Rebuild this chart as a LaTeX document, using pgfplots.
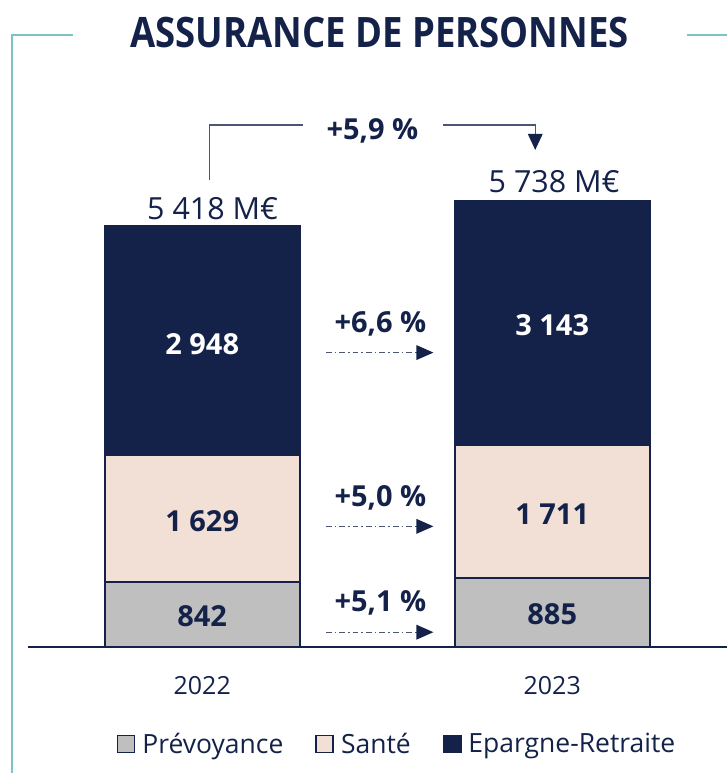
\documentclass[border=0pt]{standalone}
\usepackage{pgfplots}
\pgfplotsset{compat=1.18}
\usepackage{fontspec}
\setmainfont{Open Sans}
\definecolor{navy}{RGB}{20,34,74}
\definecolor{navyline}{RGB}{75,86,117}
\definecolor{sante}{RGB}{242,224,214}
\definecolor{prev}{RGB}{191,191,191}
\definecolor{tealf}{RGB}{122,196,200}
\newcommand{\py}[1]{(648-#1)/0.077888}
\newcommand{\fA}{\fontsize{29}{34}\selectfont\bfseries}
\newcommand{\fB}{\fontsize{30.5}{35}\selectfont}
\begin{document}
\begin{tikzpicture}
\begin{axis}[
  scale only axis, width=728pt, height=774pt,
  xmin=0, xmax=728, ymin=-1617.7, ymax=8319.7,
  ybar stacked, bar width=195,
  axis line style={draw=none},
  ytick=\empty, xtick={202.5,553}, xticklabels={2022,2023},
  major tick length=0pt,
  xticklabel style={yshift=100pt, font=\fontsize{25}{30}\selectfont, text=navy},
  clip=false,
  legend columns=3,
  legend style={at={(0.546,0.0375)}, anchor=center, draw=none, fill=none,
    font=\fontsize{26.5}{31}\selectfont, text=navy,
    /tikz/every odd column/.append style={column sep=5pt},
    /tikz/every even column/.append style={column sep=30pt}},
  legend image code/.code={\draw[#1, line width=1.8pt] (0pt,-8.5pt) rectangle (17pt,8.5pt);},
]
\addplot[fill=prev, draw=navy, line width=2pt] coordinates {(202.5,842) (553,885)};
\addlegendentry{Prévoyance}
\addplot[fill=sante, draw=navy, line width=2pt] coordinates {(202.5,1629) (553,1711)};
\addlegendentry{Santé}
\addplot[fill=navy, draw=navy, line width=2pt] coordinates {(202.5,2948) (553,3143)};
\addlegendentry{Epargne-Retraite}

\coordinate (b0) at (axis cs:28,0);
\coordinate (b1) at (axis cs:728,0);
\coordinate (f0) at (axis cs:73,{\py{35}});
\coordinate (f1) at (axis cs:12,{\py{35}});
\coordinate (f2) at (axis cs:12,{\py{774}});
\coordinate (f3) at (axis cs:688,{\py{35}});
\coordinate (f4) at (axis cs:728,{\py{35}});
\coordinate (title) at (axis cs:380,{\py{32}});
\coordinate (tot1) at (axis cs:213,{\py{209}});
\coordinate (tot2) at (axis cs:555,{\py{182}});
\coordinate (c0) at (axis cs:210,{\py{180}});
\coordinate (c1) at (axis cs:210,{\py{125}});
\coordinate (c2) at (axis cs:303,{\py{125}});
\coordinate (c3) at (axis cs:444,{\py{125}});
\coordinate (c4) at (axis cs:536,{\py{125}});
\coordinate (c5) at (axis cs:536,{\py{136}});
\coordinate (h1) at (axis cs:528.5,{\py{134}});
\coordinate (h2) at (axis cs:543.5,{\py{134}});
\coordinate (h3) at (axis cs:536,{\py{150}});
\coordinate (g) at (axis cs:373,{\py{131}});
\coordinate (v1) at (axis cs:202.5,{\py{345}});
\coordinate (v2) at (axis cs:202.5,{\py{522}});
\coordinate (v3) at (axis cs:202.5,{\py{617}});
\coordinate (w1) at (axis cs:553,{\py{326}});
\coordinate (w2) at (axis cs:553,{\py{515}});
\coordinate (w3) at (axis cs:553,{\py{615}});
\coordinate (l1) at (axis cs:381,{\py{324}});
\coordinate (l2) at (axis cs:381,{\py{498}});
\coordinate (l3) at (axis cs:381,{\py{604}});
\coordinate (a1s) at (axis cs:326,{\py{353}});
\coordinate (a1e) at (axis cs:419,{\py{353}});
\coordinate (a1u) at (axis cs:417,{\py{345.5}});
\coordinate (a1t) at (axis cs:434,{\py{353}});
\coordinate (a1d) at (axis cs:417,{\py{360.5}});
\coordinate (a2s) at (axis cs:326,{\py{527}});
\coordinate (a2e) at (axis cs:419,{\py{527}});
\coordinate (a2u) at (axis cs:417,{\py{519.5}});
\coordinate (a2t) at (axis cs:434,{\py{527}});
\coordinate (a2d) at (axis cs:417,{\py{534.5}});
\coordinate (a3s) at (axis cs:326,{\py{633}});
\coordinate (a3e) at (axis cs:419,{\py{633}});
\coordinate (a3u) at (axis cs:417,{\py{625.5}});
\coordinate (a3t) at (axis cs:434,{\py{633}});
\coordinate (a3d) at (axis cs:417,{\py{640.5}});
\end{axis}
% baseline and frame
\draw[navy, line width=2pt] (b0) -- (b1);
\draw[tealf, line width=2pt] (f0) -- (f1) -- (f2);
\draw[tealf, line width=2pt] (f3) -- (f4);
% title
\node[text=navy, font=\fontsize{42}{48}\selectfont\bfseries, xscale=0.87] at (title) {ASSURANCE DE PERSONNES};
% totals
\node[text=navy, font=\fB] at (tot1) {5 418 M€};
\node[text=navy, font=\fB] at (tot2) {5 738 M€};
% connector
\draw[navyline, line width=1.5pt] (c0) -- (c1) -- (c2);
\draw[navyline, line width=1.5pt] (c3) -- (c4) -- (c5);
\fill[navy] (h1) -- (h2) -- (h3) -- cycle;
\node[text=navy, font=\fA] at (g) {+5,9 \%};
% segment labels
\node[text=white, font=\fA] at (v1) {2 948};
\node[text=navy, font=\fA] at (v2) {1 629};
\node[text=navy, font=\fA] at (v3) {842};
\node[text=white, font=\fA] at (w1) {3 143};
\node[text=navy, font=\fA] at (w2) {1 711};
\node[text=navy, font=\fA] at (w3) {885};
% growth arrows
\node[text=navy, font=\fA] at (l1) {+6,6 \%};
\node[text=navy, font=\fA] at (l2) {+5,0 \%};
\node[text=navy, font=\fA] at (l3) {+5,1 \%};
\draw[navyline, line width=1.3pt, dash pattern=on 6pt off 3pt on 1.5pt off 3pt] (a1s) -- (a1e);
\draw[navyline, line width=1.3pt, dash pattern=on 6pt off 3pt on 1.5pt off 3pt] (a2s) -- (a2e);
\draw[navyline, line width=1.3pt, dash pattern=on 6pt off 3pt on 1.5pt off 3pt] (a3s) -- (a3e);
\fill[navy] (a1u) -- (a1t) -- (a1d) -- cycle;
\fill[navy] (a2u) -- (a2t) -- (a2d) -- cycle;
\fill[navy] (a3u) -- (a3t) -- (a3d) -- cycle;
\end{tikzpicture}
\end{document}
